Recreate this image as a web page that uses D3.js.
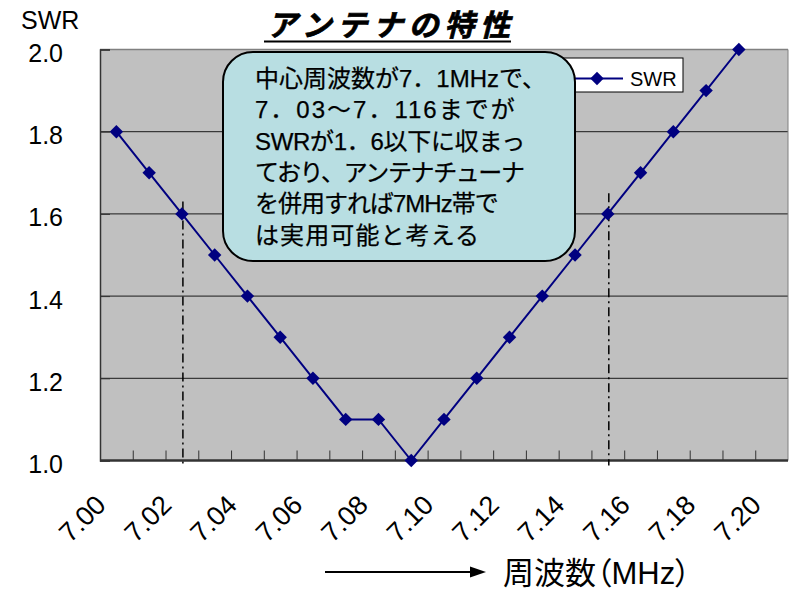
<!DOCTYPE html>
<html><head><meta charset="utf-8">
<script src="https://cdn.jsdelivr.net/npm/d3@7"></script>
<style>body{margin:0;background:#fff} svg{display:block}</style>
</head><body>
<svg id="c" width="789" height="592"></svg>
<script>
const categories = ["7.00","7.01","7.02","7.03","7.04","7.05","7.06","7.07","7.08","7.09","7.10",
                    "7.11","7.12","7.13","7.14","7.15","7.16","7.17","7.18","7.19","7.20"];
const swrValues = [1.8,1.7,1.6,1.5,1.4,1.3,1.2,1.1,1.1,1.0,1.1,1.2,1.3,1.4,1.5,1.6,1.7,1.8,1.9,2.0];
const xTickLabels = ["7.00","7.02","7.04","7.06","7.08","7.10","7.12","7.14","7.16","7.18","7.20"];
const yTickValues = [1.0,1.2,1.4,1.6,1.8,2.0];
const gridValues = [1.2,1.4,1.6,1.8];
const refLineCats = ["7.02","7.15"];
const refLineTops = [1.63,1.65];
const calloutLines = ["中心周波数が7．1MHzで、","7．03～7．116までが","SWRが1．6以下に収まっ","ており、アンテナチューナ","を併用すれば7MHz帯で","は実用可能と考える"];
const titleText = "アンテナの特性";
const yAxisTitle = "SWR";
const xAxisTitle = "周波数（MHz）";
const seriesName = "SWR";

// per-line letter spacing (layout only)
const calloutSpacing = [0, 2, -0.3, -1.4, -1.0, 1.1];

const svg = d3.select("#c");
const L = 100, R = 788, T = 49.5, B = 460.5;
const latin = "'Liberation Sans', Arial, 'Noto Sans CJK JP', sans-serif";
const jp = "'Liberation Sans', 'Noto Sans CJK JP', sans-serif";
const navy = "#000080";

const x = d3.scaleBand().domain(categories).range([L, R]);
const y = d3.scaleLinear().domain([1, 2]).range([B, T]);
const xEdge = d3.scaleOrdinal().domain(categories).range(categories.map(c => x(c)));

// plot background
svg.append("rect").attr("x", L).attr("y", T).attr("width", R - L).attr("height", B - T).attr("fill", "#c0c0c0");
// grid
svg.append("g").selectAll("line").data(gridValues).join("line")
  .attr("x1", L).attr("x2", R).attr("y1", d => y(d)).attr("y2", d => y(d))
  .attr("stroke", "#1a1a1a").attr("stroke-width", 1);
svg.append("line").attr("x1", L).attr("x2", R).attr("y1", y(2)).attr("y2", y(2)).attr("stroke", "#808080").attr("stroke-width", 1.5);
svg.append("line").attr("x1", R).attr("x2", R).attr("y1", T).attr("y2", B).attr("stroke", "#808080").attr("stroke-width", 1);

// y axis
const gy = svg.append("g").attr("transform", `translate(${L},0)`)
  .call(d3.axisLeft(y).tickValues(yTickValues).tickSize(-10).tickFormat(d3.format(".1f")));
gy.select(".domain").attr("stroke", "#333").attr("stroke-width", 1.5);
gy.selectAll(".tick line").attr("stroke", "#333");
gy.selectAll(".tick text").attr("x", -37).attr("dy", null).attr("y", 12)
  .attr("text-anchor", "end").attr("fill", "#000")
  .style("font-family", latin).style("font-size", "25px");

// x axis ticks
const gxT = svg.append("g").attr("transform", `translate(0,${B})`)
  .call(d3.axisBottom(xEdge).tickValues(categories.slice(1)).tickSize(-10).tickFormat(""));
gxT.select(".domain").remove();
gxT.selectAll(".tick line").attr("stroke", "#333");
svg.append("line").attr("x1", L).attr("x2", R).attr("y1", B).attr("y2", B).attr("stroke", "#333").attr("stroke-width", 2.5);

// x axis labels
const gxL = svg.append("g").attr("transform", `translate(0,${B})`)
  .call(d3.axisBottom(xEdge).tickValues(xTickLabels).tickSize(0));
gxL.select(".domain").remove();
gxL.selectAll(".tick text").attr("x", 0).attr("y", 0).attr("dy", null)
  .attr("transform", "translate(7,46) rotate(-45)").attr("text-anchor", "end").attr("fill", "#000")
  .style("font-family", latin).style("font-size", "27px");

// reference dash-dot lines
svg.append("g").selectAll("line").data(refLineCats).join("line")
  .attr("x1", d => x(d) + x.bandwidth() / 2 + 1).attr("x2", d => x(d) + x.bandwidth() / 2 + 1)
  .attr("y1", (d, i) => y(refLineTops[i])).attr("y2", B + 5)
  .attr("stroke", "#000").attr("stroke-width", 1.5).attr("stroke-dasharray", "9,4,2,4");

// series
const cx = (d, i) => x(categories[i]) + x.bandwidth() / 2;
svg.append("path").datum(swrValues)
  .attr("d", d3.line().x(cx).y(d => y(d)))
  .attr("fill", "none").attr("stroke", navy).attr("stroke-width", 2);
const diamond = d3.symbol(d3.symbolSquare, 90);
svg.append("g").selectAll("path").data(swrValues).join("path")
  .attr("d", diamond)
  .attr("transform", (d, i) => `translate(${cx(d, i)},${y(d)}) rotate(45)`)
  .attr("fill", navy);

// legend
const lg = svg.append("g");
lg.append("rect").attr("x", 556).attr("y", 58).attr("width", 127).attr("height", 34)
  .attr("fill", "#fff").attr("stroke", "#000").attr("stroke-width", 1);
lg.append("line").attr("x1", 570).attr("x2", 623).attr("y1", 78.5).attr("y2", 78.5).attr("stroke", navy).attr("stroke-width", 2);
lg.append("path").attr("d", diamond).attr("transform", "translate(597,78.5) rotate(45)").attr("fill", navy);
lg.append("text").attr("x", 630).attr("y", 86).text(seriesName)
  .style("font-family", latin).style("font-size", "20px").attr("fill", "#000");

// callout
svg.append("rect").attr("x", 223).attr("y", 52).attr("width", 352).attr("height", 209)
  .attr("rx", 30).attr("ry", 30).attr("fill", "#b8dee2").attr("stroke", "#000").attr("stroke-width", 2);
svg.append("g").selectAll("text").data(calloutLines).join("text")
  .attr("x", 255).attr("y", (d, i) => 87 + i * 31.3).text(d => d)
  .style("letter-spacing", (d, i) => calloutSpacing[i] + "px")
  .style("font-family", jp).style("font-size", "24px").attr("fill", "#000")
  .attr("stroke", "#000").attr("stroke-width", 0.25);

// title
svg.append("text").attr("x", 267).attr("y", 36).text(titleText)
  .attr("textLength", 243).attr("lengthAdjust", "spacing")
  .style("font-family", "'Noto Sans CJK JP', sans-serif").style("font-size", "30px")
  .style("font-weight", "bold").style("font-style", "italic").attr("fill", "#000")
  .attr("stroke", "#000").attr("stroke-width", 0.7);
svg.append("line").attr("x1", 264).attr("x2", 511).attr("y1", 41.5).attr("y2", 41.5).attr("stroke", "#000").attr("stroke-width", 2);

// y axis title
svg.append("text").attr("x", 21).attr("y", 29).text(yAxisTitle)
  .style("font-family", latin).style("font-size", "25px").attr("fill", "#000");

// x axis title with arrow
svg.append("line").attr("x1", 325).attr("x2", 472).attr("y1", 572).attr("y2", 572).attr("stroke", "#000").attr("stroke-width", 2);
svg.append("path").attr("d", d3.line()([[470, 566.5], [486, 572], [470, 577.5]]) + "Z").attr("fill", "#000");
svg.append("text").attr("x", 503).attr("y", 584).text(xAxisTitle)
  .style("font-family", jp).style("font-size", "31px").style("font-feature-settings", "'palt'").attr("fill", "#000");
</script>
</body></html>
